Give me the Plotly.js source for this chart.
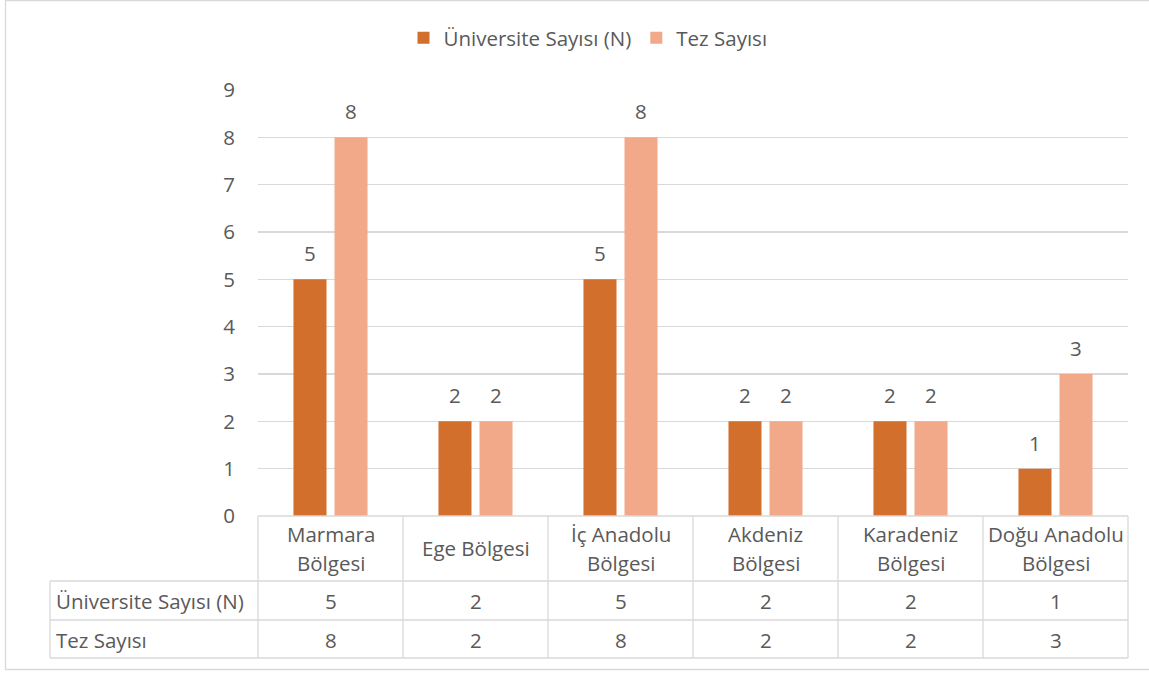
<!DOCTYPE html>
<html>
<head>
<meta charset="utf-8">
<script src="https://cdn.plot.ly/plotly-3.0.1.min.js"></script>
<style>html,body{margin:0;padding:0;background:#fff;}#chart{width:1149px;height:673px;}</style>
</head>
<body>
<div id="chart"></div>
<script>
var categories = ["Marmara Bölgesi", "Ege Bölgesi", "İç Anadolu Bölgesi", "Akdeniz Bölgesi", "Karadeniz Bölgesi", "Doğu Anadolu Bölgesi"];
var categoryLabels = [["Marmara", "Bölgesi"], ["Ege Bölgesi"], ["İç Anadolu", "Bölgesi"], ["Akdeniz", "Bölgesi"], ["Karadeniz", "Bölgesi"], ["Doğu Anadolu", "Bölgesi"]];
var seriesNames = ["Üniversite Sayısı (N)", "Tez Sayısı"];
var universiteSayisi = [5, 2, 5, 2, 2, 1];
var tezSayisi = [8, 2, 8, 2, 2, 3];
var yTicks = [0, 1, 2, 3, 4, 5, 6, 7, 8, 9];

var W = 1149, H = 673;
var L = 258, R = 1128, T = 90, B = 516;
var FONT = "'Open Sans', sans-serif";
var FS = 20.5;
var TXT = "#595959";
var GRID = "#D9D9D9";
var C1 = "#D26F2C", C2 = "#F1A98A";

function px(p) { return (p - L) / (R - L); }
function py(p) { return (B - p) / (B - T); }

var traces = [
  {type: "bar", name: seriesNames[0], x: categories, y: universiteSayisi, marker: {color: C1}, hoverinfo: "none"},
  {type: "bar", name: seriesNames[1], x: categories, y: tezSayisi, marker: {color: C2}, hoverinfo: "none"}
];

var shapes = [];
function line(x0, y0, x1, y1) {
  shapes.push({type: "line", xref: "paper", yref: "paper", x0: px(x0), y0: py(y0), x1: px(x1), y1: py(y1), line: {color: GRID, width: 1.3}, layer: "above"});
}
// chart border
shapes.push({type: "rect", xref: "paper", yref: "paper", x0: px(5.5), y0: py(669.5), x1: px(1165), y1: py(0.5), line: {color: GRID, width: 1.3}, layer: "below"});
// data table lines
line(L, 516, R, 516);
line(50, 581, R, 581);
line(50, 620, R, 620);
line(50, 658, R, 658);
line(50, 581, 50, 658);
var step = (R - L) / categories.length;
for (var k = 0; k <= categories.length; k++) {
  line(L + k * step, 516, L + k * step, 658);
}

var annotations = [];
var lblFont = {family: FONT, size: FS, color: TXT};
// bar value labels
var seriesVals = [universiteSayisi, tezSayisi];
var shifts = [-20.5, 20.5];
for (var s = 0; s < 2; s++) {
  for (var i = 0; i < categories.length; i++) {
    annotations.push({xref: "x", yref: "y", x: categories[i], y: seriesVals[s][i], text: String(seriesVals[s][i]),
      showarrow: false, xshift: shifts[s], yanchor: "bottom", yshift: 10, font: lblFont});
  }
}
// table header category labels
for (var i = 0; i < categories.length; i++) {
  var lines = categoryLabels[i];
  var centers = lines.length === 1 ? [548] : [534, 563];
  for (var j = 0; j < lines.length; j++) {
    annotations.push({xref: "x", yref: "paper", x: categories[i], y: py(centers[j]), text: lines[j],
      showarrow: false, yanchor: "middle", font: lblFont});
  }
}
// table rows
var rowCenters = [601, 640];
for (var s = 0; s < 2; s++) {
  annotations.push({xref: "paper", yref: "paper", x: px(54), y: py(rowCenters[s]), text: seriesNames[s],
    showarrow: false, xanchor: "left", yanchor: "middle", font: lblFont});
  for (var i = 0; i < categories.length; i++) {
    annotations.push({xref: "x", yref: "paper", x: categories[i], y: py(rowCenters[s]), text: String(seriesVals[s][i]),
      showarrow: false, yanchor: "middle", font: lblFont});
  }
}

var layout = {
  width: W, height: H,
  margin: {l: L, r: W - R, t: T, b: H - B, pad: 0},
  paper_bgcolor: "#ffffff", plot_bgcolor: "#ffffff",
  font: {family: FONT, size: FS, color: TXT},
  barmode: "group", bargap: 0.434, bargroupgap: 0.195,
  showlegend: true,
  legend: {orientation: "h", x: px(588), xanchor: "center", y: py(38), yanchor: "middle",
    font: {family: FONT, size: FS, color: TXT}, itemwidth: 30, traceorder: "normal", bgcolor: "rgba(0,0,0,0)"},
  xaxis: {type: "category", showticklabels: false, showgrid: false, zeroline: false, showline: false, ticks: "", fixedrange: true},
  yaxis: {range: [0, 9], tickvals: yTicks, ticktext: yTicks.map(String), showgrid: true, gridcolor: GRID, gridwidth: 1.3,
    zeroline: false, showline: false, ticks: "", ticklabelstandoff: 22, tickfont: {family: FONT, size: FS, color: TXT}, fixedrange: true},
  shapes: shapes,
  annotations: annotations
};

Plotly.newPlot("chart", traces, layout, {staticPlot: true, displayModeBar: false});
</script>
</body>
</html>
